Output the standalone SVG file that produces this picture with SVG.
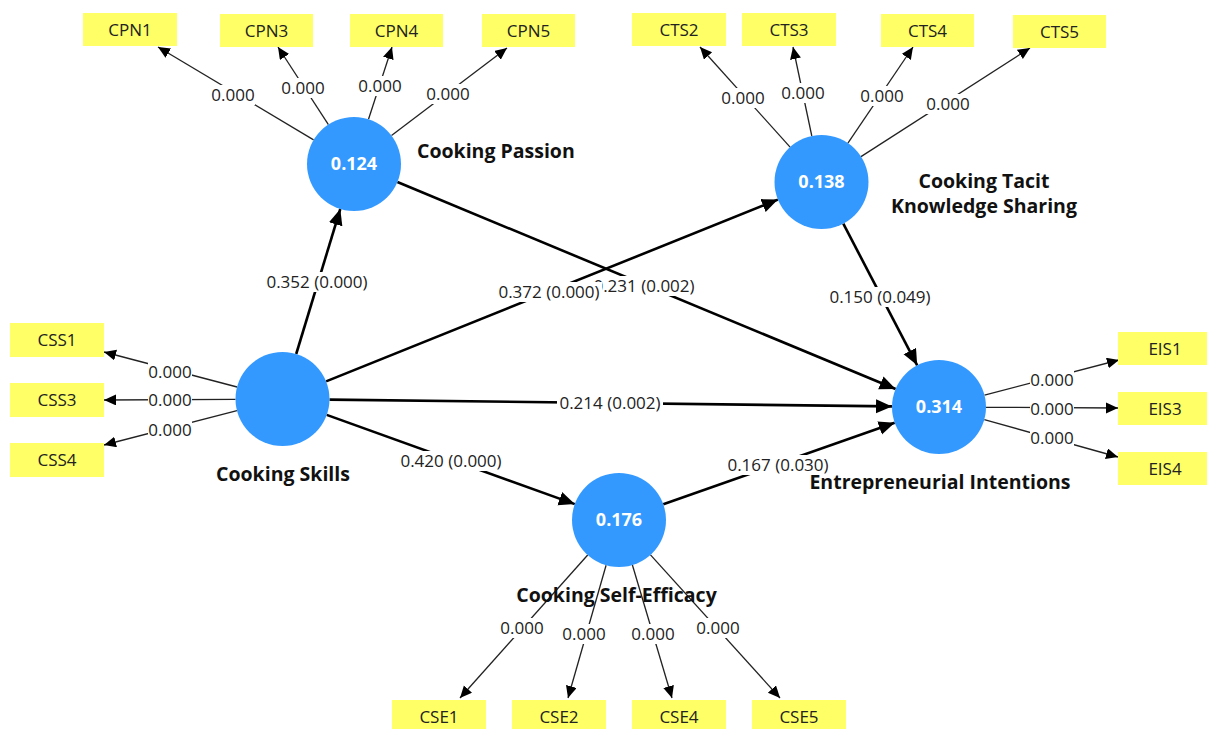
<svg xmlns="http://www.w3.org/2000/svg" width="1207" height="729" viewBox="0 0 1207 729">
<style>
.bg{fill:#ffffff}
.ind rect{fill:#ffff66}
.ind text{font-family:"Open Sans","Noto Sans",sans-serif;font-size:17px;fill:#222;text-anchor:middle}
.lv circle{fill:#3399ff}
.val{font-family:"Open Sans","Noto Sans",sans-serif;font-size:18px;font-weight:bold;fill:#ffffff;text-anchor:middle}
.name{font-family:"Open Sans","Noto Sans",sans-serif;font-size:19.5px;font-weight:bold;fill:#111}
.mid{text-anchor:middle}
.outer{stroke:#222;stroke-width:1.3;fill:none;marker-end:url(#aS)}
.path{stroke:#000;stroke-width:2.6;fill:none;marker-end:url(#aL)}
.lbl rect{fill:#ffffff}
.lbl text{font-family:"Open Sans","Noto Sans",sans-serif;font-size:17px;fill:#222;text-anchor:middle}
</style>
<defs>
<marker id="aS" markerUnits="userSpaceOnUse" markerWidth="13" markerHeight="12" refX="12" refY="5.5" orient="auto">
<path d="M0,0 L12,5.5 L0,11 z" fill="#000"/>
</marker>
<marker id="aL" markerUnits="userSpaceOnUse" markerWidth="17" markerHeight="15" refX="16" refY="7" orient="auto">
<path d="M0,0 L16,7 L0,14 z" fill="#000"/>
</marker>
</defs>
<rect class="bg" x="0" y="0" width="1207" height="729"/>

<g id="connectors">
<line class="path" x1="296.2" y1="354" x2="340.3" y2="209"/>
<line class="path" x1="326.1" y1="381.4" x2="777.9" y2="199.6"/>
<line class="path" x1="397.4" y1="182" x2="895.6" y2="389"/>
<line class="path" x1="329.5" y1="399.6" x2="892" y2="406.4"/>
<line class="path" x1="326.7" y1="414.9" x2="574.8" y2="504.1"/>
<line class="path" x1="663.3" y1="504.3" x2="894.7" y2="422.7"/>
<line class="path" x1="843.3" y1="223.7" x2="917.2" y2="365.3"/>
<line class="outer" x1="313.6" y1="139.9" x2="158" y2="47"/>
<line class="outer" x1="328.4" y1="124.6" x2="278" y2="47"/>
<line class="outer" x1="368.5" y1="119.3" x2="392" y2="47"/>
<line class="outer" x1="391.5" y1="135.6" x2="507" y2="48"/>
<line class="outer" x1="790.1" y1="147.1" x2="700" y2="47"/>
<line class="outer" x1="811.8" y1="136" x2="793" y2="47"/>
<line class="outer" x1="847.9" y1="143.1" x2="913" y2="47"/>
<line class="outer" x1="861" y1="156.6" x2="1030" y2="48"/>
<line class="outer" x1="237.1" y1="387" x2="104" y2="352"/>
<line class="outer" x1="235.5" y1="399.3" x2="104" y2="400"/>
<line class="outer" x1="237" y1="410.7" x2="104" y2="445"/>
<line class="outer" x1="984.5" y1="395.1" x2="1119" y2="360"/>
<line class="outer" x1="986" y1="407.3" x2="1118" y2="408"/>
<line class="outer" x1="984.3" y1="419.6" x2="1118" y2="457"/>
<line class="outer" x1="587.7" y1="555" x2="460" y2="698"/>
<line class="outer" x1="606.1" y1="565.2" x2="568" y2="698"/>
<line class="outer" x1="632.4" y1="565" x2="672" y2="698"/>
<line class="outer" x1="650.5" y1="554.9" x2="780" y2="698"/>

<g class="lbl">
<rect x="211" y="85" width="44" height="20"/><text x="233" y="101">0.000</text>
<rect x="281" y="78" width="44" height="20"/><text x="303" y="94">0.000</text>
<rect x="358" y="76" width="44" height="20"/><text x="380" y="92">0.000</text>
<rect x="426" y="84" width="44" height="20"/><text x="448" y="100">0.000</text>
<rect x="721" y="88" width="44" height="20"/><text x="743" y="104">0.000</text>
<rect x="781" y="83" width="44" height="20"/><text x="803" y="99">0.000</text>
<rect x="860" y="86" width="44" height="20"/><text x="882" y="102">0.000</text>
<rect x="926" y="94" width="44" height="20"/><text x="948" y="110">0.000</text>
<rect x="148" y="362" width="44" height="20"/><text x="170" y="378">0.000</text>
<rect x="148" y="390" width="44" height="20"/><text x="170" y="406">0.000</text>
<rect x="148" y="420" width="44" height="20"/><text x="170" y="436">0.000</text>
<rect x="1030" y="370" width="44" height="20"/><text x="1052" y="386">0.000</text>
<rect x="1030" y="399" width="44" height="20"/><text x="1052" y="415">0.000</text>
<rect x="1030" y="428" width="44" height="20"/><text x="1052" y="444">0.000</text>
<rect x="500" y="618" width="44" height="20"/><text x="522" y="634">0.000</text>
<rect x="562" y="624" width="44" height="20"/><text x="584" y="640">0.000</text>
<rect x="631" y="624" width="44" height="20"/><text x="653" y="640">0.000</text>
<rect x="696" y="618" width="44" height="20"/><text x="718" y="634">0.000</text>
<rect x="591" y="276" width="106" height="20"/><text x="644" y="292">0.231 (0.002)</text>
<rect x="496" y="282" width="106" height="20"/><text x="549" y="298">0.372 (0.000)</text>
<rect x="264" y="272" width="106" height="20"/><text x="317" y="288">0.352 (0.000)</text>
<rect x="557" y="393" width="106" height="20"/><text x="610" y="409">0.214 (0.002)</text>
<rect x="398" y="451" width="106" height="20"/><text x="451" y="467">0.420 (0.000)</text>
<rect x="725" y="455" width="106" height="20"/><text x="778" y="471">0.167 (0.030)</text>
<rect x="827" y="287" width="106" height="20"/><text x="880" y="303">0.150 (0.049)</text>
</g>
</g>

<g id="CookingPassion" class="lv">
<circle cx="354" cy="164" r="47"/>
<text class="val" x="354" y="170">0.124</text>
<text class="name" x="417" y="158">Cooking Passion</text>
</g>
<g id="CookingTacitKnowledgeSharing" class="lv">
<circle cx="821.5" cy="182" r="47"/>
<text class="val" x="821.5" y="188">0.138</text>
<text class="name mid" x="984" y="188">Cooking Tacit</text>
<text class="name mid" x="984" y="213">Knowledge Sharing</text>
</g>
<g id="CookingSkills" class="lv">
<circle cx="282.5" cy="399" r="47"/>
<text class="name mid" x="283" y="481">Cooking Skills</text>
</g>
<g id="EntrepreneurialIntentions" class="lv">
<circle cx="939" cy="407" r="47"/>
<text class="val" x="939" y="413">0.314</text>
<text class="name mid" x="940" y="489">Entrepreneurial Intentions</text>
</g>
<g id="CookingSelfEfficacy" class="lv">
<circle cx="619" cy="520" r="47"/>
<text class="val" x="619" y="526">0.176</text>
<text class="name mid" x="616.5" y="602">Cooking Self-Efficacy</text>
</g>

<g id="CPN1" class="ind"><rect x="83" y="13" width="94" height="33"/><text x="130" y="35.5">CPN1</text></g>
<g id="CPN3" class="ind"><rect x="220" y="14" width="93" height="33"/><text x="266.5" y="36.5">CPN3</text></g>
<g id="CPN4" class="ind"><rect x="350" y="14" width="93" height="33"/><text x="396.5" y="36.5">CPN4</text></g>
<g id="CPN5" class="ind"><rect x="482" y="14" width="93" height="33"/><text x="528.5" y="36.5">CPN5</text></g>
<g id="CTS2" class="ind"><rect x="632" y="13" width="94" height="33"/><text x="679" y="35.5">CTS2</text></g>
<g id="CTS3" class="ind"><rect x="742" y="13" width="94" height="33"/><text x="789" y="35.5">CTS3</text></g>
<g id="CTS4" class="ind"><rect x="881" y="14" width="93" height="33"/><text x="927.5" y="36.5">CTS4</text></g>
<g id="CTS5" class="ind"><rect x="1013" y="15" width="93" height="33"/><text x="1059.5" y="37.5">CTS5</text></g>
<g id="CSS1" class="ind"><rect x="10" y="323" width="94" height="34"/><text x="57" y="346">CSS1</text></g>
<g id="CSS3" class="ind"><rect x="10" y="383" width="94" height="34"/><text x="57" y="406">CSS3</text></g>
<g id="CSS4" class="ind"><rect x="10" y="443" width="94" height="34"/><text x="57" y="466">CSS4</text></g>
<g id="EIS1" class="ind"><rect x="1118" y="332" width="94" height="33"/><text x="1165" y="354.5">EIS1</text></g>
<g id="EIS3" class="ind"><rect x="1118" y="392" width="94" height="33"/><text x="1165" y="414.5">EIS3</text></g>
<g id="EIS4" class="ind"><rect x="1118" y="452" width="94" height="33"/><text x="1165" y="474.5">EIS4</text></g>
<g id="CSE1" class="ind"><rect x="392" y="700" width="94" height="33"/><text x="439" y="722.5">CSE1</text></g>
<g id="CSE2" class="ind"><rect x="512" y="700" width="94" height="33"/><text x="559" y="722.5">CSE2</text></g>
<g id="CSE4" class="ind"><rect x="632" y="700" width="94" height="33"/><text x="679" y="722.5">CSE4</text></g>
<g id="CSE5" class="ind"><rect x="752" y="700" width="94" height="33"/><text x="799" y="722.5">CSE5</text></g>
</svg>
